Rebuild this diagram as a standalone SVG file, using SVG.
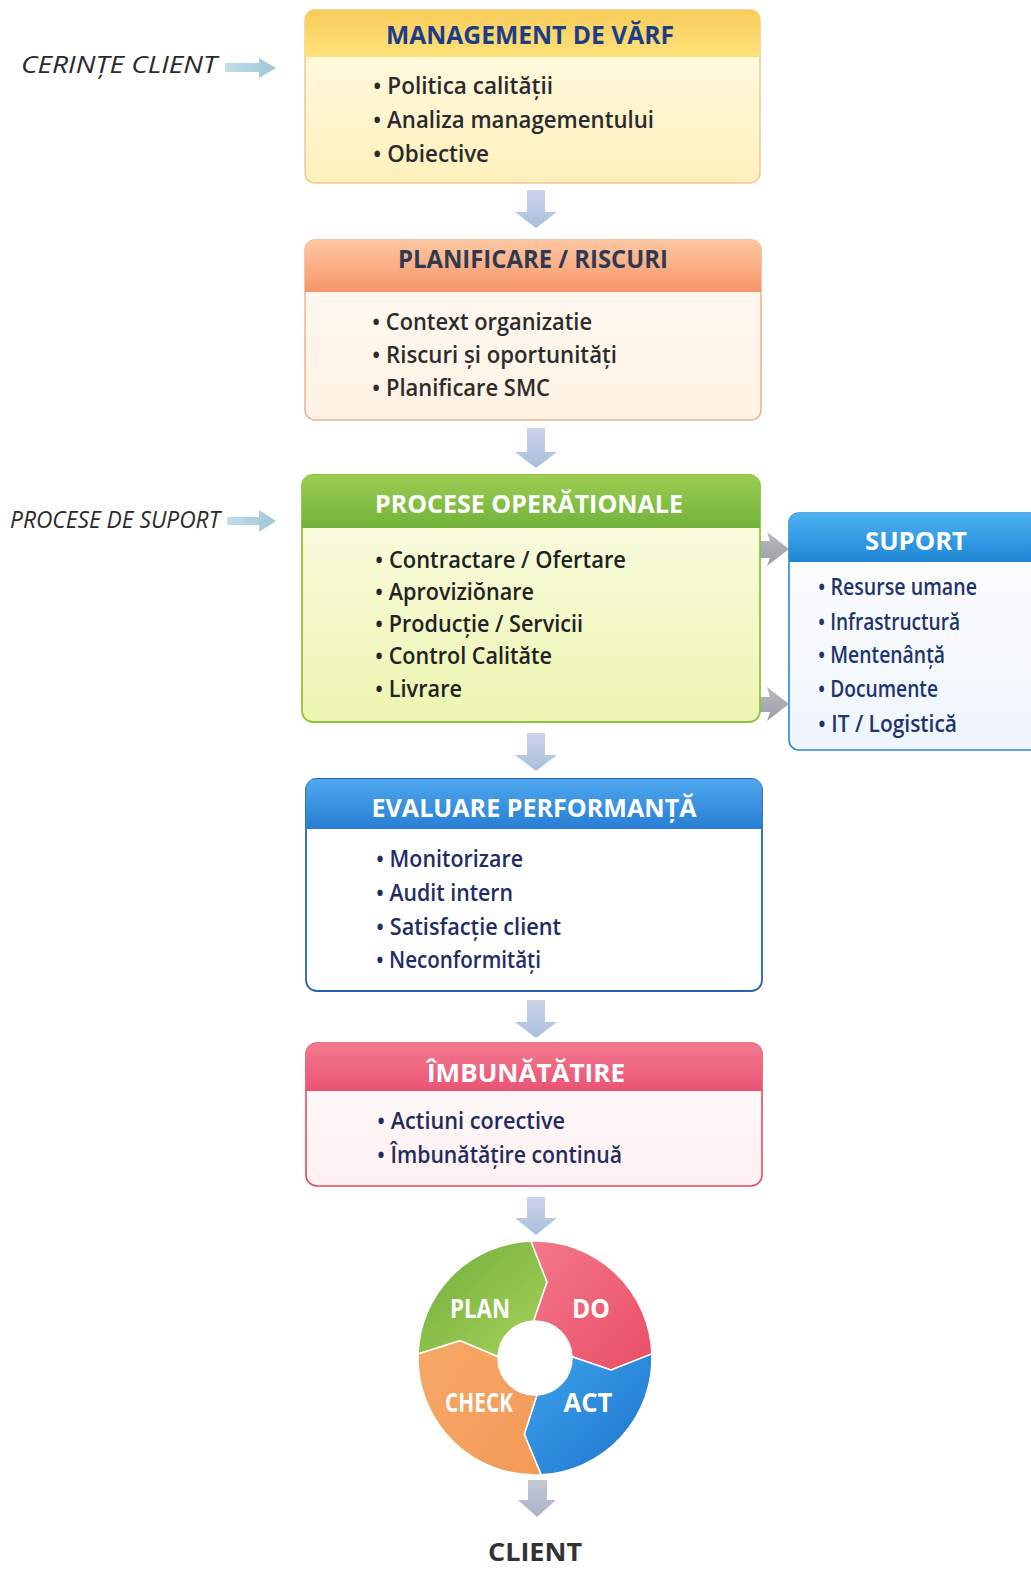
<svg xmlns="http://www.w3.org/2000/svg" width="1031" height="1570" viewBox="0 0 1031 1570">
<defs>
<style>
.t{font-family:"Open Sans","Liberation Sans","DejaVu Sans",sans-serif;font-weight:700;font-size:25px;text-anchor:middle}
.b{font-family:"Open Sans","Liberation Sans","DejaVu Sans",sans-serif;font-weight:600;font-size:23px}
.side{font-family:"Open Sans","Liberation Sans","DejaVu Sans",sans-serif;font-style:italic;font-weight:500;font-size:23px;fill:#2a2a2a}
.pd{font-family:"Open Sans","Liberation Sans","DejaVu Sans",sans-serif;font-weight:700;font-size:26px;fill:#fff;text-anchor:middle}
.down{fill:url(#gDown)}
</style>
<linearGradient id="gDown" x1="0" y1="0" x2="0" y2="1"><stop offset="0" stop-color="#cdd3ea"/><stop offset="1" stop-color="#a9bfdc"/></linearGradient>
<linearGradient id="gDown2" x1="0" y1="0" x2="0" y2="1"><stop offset="0" stop-color="#c4c8d6"/><stop offset="1" stop-color="#aab2c6"/></linearGradient>
<linearGradient id="gSide" x1="0" y1="0" x2="1" y2="0"><stop offset="0" stop-color="#c4dde8"/><stop offset="1" stop-color="#9fc6da"/></linearGradient>
<linearGradient id="gGray" x1="0" y1="0" x2="0" y2="1"><stop offset="0" stop-color="#b8bac0"/><stop offset="1" stop-color="#9a9ea6"/></linearGradient>
<linearGradient id="h1" x1="0" y1="0" x2="0" y2="1"><stop offset="0" stop-color="#f8cc5a"/><stop offset="1" stop-color="#fde27a"/></linearGradient>
<linearGradient id="b1" x1="0" y1="0" x2="0" y2="1"><stop offset="0" stop-color="#fffce8"/><stop offset="1" stop-color="#fff0bc"/></linearGradient>
<linearGradient id="h2" x1="0" y1="0" x2="0" y2="1"><stop offset="0" stop-color="#fcc8a2"/><stop offset="1" stop-color="#f8956a"/></linearGradient>
<linearGradient id="b2" x1="0" y1="0" x2="0" y2="1"><stop offset="0" stop-color="#fffaf3"/><stop offset="1" stop-color="#fff2e4"/></linearGradient>
<linearGradient id="h3" x1="0" y1="0" x2="0" y2="1"><stop offset="0" stop-color="#9ccd52"/><stop offset="1" stop-color="#72b23a"/></linearGradient>
<linearGradient id="b3" x1="0" y1="0" x2="0" y2="1"><stop offset="0" stop-color="#fbfde8"/><stop offset="1" stop-color="#ecf5b0"/></linearGradient>
<linearGradient id="hS" x1="0" y1="0" x2="0" y2="1"><stop offset="0" stop-color="#4db2f0"/><stop offset="1" stop-color="#1f86d6"/></linearGradient>
<linearGradient id="bS" x1="0" y1="0" x2="0" y2="1"><stop offset="0" stop-color="#ffffff"/><stop offset="1" stop-color="#eef5fc"/></linearGradient>
<linearGradient id="h4" x1="0" y1="0" x2="0" y2="1"><stop offset="0" stop-color="#4fa8ee"/><stop offset="1" stop-color="#277ed4"/></linearGradient>
<linearGradient id="h5" x1="0" y1="0" x2="0" y2="1"><stop offset="0" stop-color="#f27a8e"/><stop offset="1" stop-color="#ea5474"/></linearGradient>
<linearGradient id="b5" x1="0" y1="0" x2="0" y2="1"><stop offset="0" stop-color="#fffafa"/><stop offset="1" stop-color="#fff1f2"/></linearGradient>
<linearGradient id="pPlan" x1="0" y1="0" x2="1" y2="1"><stop offset="0" stop-color="#6fae3a"/><stop offset="1" stop-color="#a8d25c"/></linearGradient>
<linearGradient id="pDo" x1="0" y1="0" x2="1" y2="1"><stop offset="0" stop-color="#f3788a"/><stop offset="1" stop-color="#e94e66"/></linearGradient>
<linearGradient id="pAct" x1="0" y1="0" x2="1" y2="1"><stop offset="0" stop-color="#3ea2ec"/><stop offset="1" stop-color="#1c74cc"/></linearGradient>
<linearGradient id="pCheck" x1="0" y1="0" x2="1" y2="1"><stop offset="0" stop-color="#f6a866"/><stop offset="1" stop-color="#f39a58"/></linearGradient>
</defs>
<rect x="0" y="0" width="1031" height="1570" fill="#ffffff"/>

<g id="connectors">
<path d="M225 63 H259 V58 L276 68 L259 78 V72 H225 Z" fill="url(#gSide)"/>
<path d="M227 517 H259 V510 L276 521 L259 532 V525 H227 Z" fill="url(#gSide)"/>
<path class="down" d="M527 190 H545 V212 H557 L536 228 L515 212 H527 Z"/>
<path class="down" d="M527 428 H545 V452 H557 L536 468 L515 452 H527 Z"/>
<path class="down" d="M527 733 H545 V755 H557 L536 771 L515 755 H527 Z"/>
<path class="down" d="M527 1000 H545 V1022 H557 L536 1038 L515 1022 H527 Z"/>
<path class="down" d="M527 1197 H545 V1218 H557 L536 1235 L515 1218 H527 Z"/>
<path d="M528 1480 H547 V1500 H556 L537 1517 L518 1500 H528 Z" fill="url(#gDown2)"/>
<line x1="687" y1="557" x2="760" y2="557" stroke="#555a60" stroke-width="1.6"/>
<path d="M752 541 H770 L767 532 L789 549 L767 566 L770 558 H752 Z" fill="url(#gGray)"/>
<path d="M742 697 H770 L767 687 L789 704 L767 721 L770 712 H742 Z" fill="url(#gGray)"/>
</g>

<g id="labels">
<text class="side" x="21" y="73" textLength="196" lengthAdjust="spacingAndGlyphs">CERINȚE CLIENT</text>
<text class="side" x="10" y="528" textLength="210" lengthAdjust="spacingAndGlyphs">PROCESE DE SUPORT</text>
</g>

<g id="node-management">
<rect x="305" y="10" width="455" height="173" rx="10" fill="url(#b1)" stroke="#f2c890" stroke-width="1.5"/>
<path d="M305 57 V20 Q305 10 315 10 H750 Q760 10 760 20 V57 Z" fill="url(#h1)"/>
<text class="t" x="530" y="44" fill="#1e3c88" textLength="288" lengthAdjust="spacingAndGlyphs">MANAGEMENT DE VĂRF</text>
<text class="b" x="373" y="94" fill="#2a2a2e" textLength="180" lengthAdjust="spacingAndGlyphs">• Politica calității</text>
<text class="b" x="373" y="128" fill="#2a2a2e" textLength="281" lengthAdjust="spacingAndGlyphs">• Analiza managementului</text>
<text class="b" x="373" y="162" fill="#2a2a2e" textLength="116" lengthAdjust="spacingAndGlyphs">• Obiective</text>
</g>

<g id="node-planificare">
<rect x="305" y="240" width="456" height="180" rx="10" fill="url(#b2)" stroke="#f2b08a" stroke-width="1.5"/>
<path d="M305 292 V250 Q305 240 315 240 H751 Q761 240 761 250 V292 Z" fill="url(#h2)"/>
<text class="t" x="533" y="268" fill="#2f3a52" textLength="270" lengthAdjust="spacingAndGlyphs">PLANIFICARE / RISCURI</text>
<text class="b" x="372" y="330" fill="#2c2c2c" textLength="220" lengthAdjust="spacingAndGlyphs">• Context organizatie</text>
<text class="b" x="372" y="363" fill="#2c2c2c" textLength="245" lengthAdjust="spacingAndGlyphs">• Riscuri și oportunități</text>
<text class="b" x="372" y="396" fill="#2c2c2c" textLength="178" lengthAdjust="spacingAndGlyphs">• Planificare SMC</text>
</g>

<g id="node-procese">
<rect x="302" y="475" width="458" height="247" rx="11" fill="url(#b3)" stroke="#8cc440" stroke-width="1.8"/>
<path d="M302 528 V486 Q302 475 313 475 H749 Q760 475 760 486 V528 Z" fill="url(#h3)"/>
<text class="t" x="529" y="513" fill="#ffffff" textLength="308" lengthAdjust="spacingAndGlyphs">PROCESE OPERĂTIONALE</text>
<text class="b" x="375" y="568" fill="#222222" textLength="251" lengthAdjust="spacingAndGlyphs">• Contractare / Ofertare</text>
<text class="b" x="375" y="600" fill="#222222" textLength="159" lengthAdjust="spacingAndGlyphs">• Aproviziŏnare</text>
<text class="b" x="375" y="632" fill="#222222" textLength="208" lengthAdjust="spacingAndGlyphs">• Producție / Servicii</text>
<text class="b" x="375" y="664" fill="#222222" textLength="177" lengthAdjust="spacingAndGlyphs">• Control Calităte</text>
<text class="b" x="375" y="697" fill="#222222" textLength="87" lengthAdjust="spacingAndGlyphs">• Livrare</text>
</g>

<g id="node-suport">
<rect x="789" y="513" width="260" height="237" rx="10" fill="url(#bS)" stroke="#2f86cc" stroke-width="1.6"/>
<path d="M789 562 V523 Q789 513 799 513 H1049 V562 Z" fill="url(#hS)"/>
<text class="t" x="916" y="550" fill="#ffffff" textLength="102" lengthAdjust="spacingAndGlyphs">SUPORT</text>
<text class="b" x="818" y="595" fill="#1e3470" textLength="159" lengthAdjust="spacingAndGlyphs">• Resurse umane</text>
<text class="b" x="818" y="630" fill="#1e3470" textLength="142" lengthAdjust="spacingAndGlyphs">• Infrastructură</text>
<text class="b" x="818" y="663" fill="#1e3470" textLength="127" lengthAdjust="spacingAndGlyphs">• Mentenânță</text>
<text class="b" x="818" y="697" fill="#1e3470" textLength="120" lengthAdjust="spacingAndGlyphs">• Documente</text>
<text class="b" x="818" y="732" fill="#1e3470" textLength="139" lengthAdjust="spacingAndGlyphs">• IT / Logistică</text>
</g>

<g id="node-evaluare">
<rect x="306" y="779" width="456" height="212" rx="11" fill="#ffffff" stroke="#2a62b2" stroke-width="1.8"/>
<path d="M306 829 V790 Q306 779 317 779 H751 Q762 779 762 790 V829 Z" fill="url(#h4)"/>
<text class="t" x="534" y="817" fill="#ffffff" textLength="325" lengthAdjust="spacingAndGlyphs">EVALUARE PERFORMANȚĂ</text>
<text class="b" x="376" y="867" fill="#1f2c66" textLength="147" lengthAdjust="spacingAndGlyphs">• Monitorizare</text>
<text class="b" x="376" y="901" fill="#1f2c66" textLength="137" lengthAdjust="spacingAndGlyphs">• Audit intern</text>
<text class="b" x="376" y="935" fill="#1f2c66" textLength="185" lengthAdjust="spacingAndGlyphs">• Satisfacție client</text>
<text class="b" x="376" y="968" fill="#1f2c66" textLength="165" lengthAdjust="spacingAndGlyphs">• Neconformități</text>
</g>

<g id="node-imbunatatire">
<rect x="306" y="1043" width="456" height="143" rx="11" fill="url(#b5)" stroke="#de4a66" stroke-width="1.6"/>
<path d="M306 1091 V1054 Q306 1043 317 1043 H751 Q762 1043 762 1054 V1091 Z" fill="url(#h5)"/>
<text class="t" x="526" y="1082" fill="#ffffff" textLength="198" lengthAdjust="spacingAndGlyphs">ÎMBUNĂTĂTIRE</text>
<text class="b" x="377" y="1129" fill="#1f2c5e" textLength="188" lengthAdjust="spacingAndGlyphs">• Actiuni corective</text>
<text class="b" x="377" y="1163" fill="#1f2c5e" textLength="245" lengthAdjust="spacingAndGlyphs">• Îmbunătățire continuă</text>
</g>

<g id="node-pdca">
<g transform="translate(535,1358)" stroke="#ffffff" stroke-width="1.5" stroke-linejoin="round">
<path d="M-116.93,-4.08 A117,117 0 0 1 -4.08,-116.93 L12.04,-76.05 L-1.29,-36.98 A37,37 0 0 0 -36.98,-1.29 L-75.03,-17.32 Z" fill="url(#pPlan)"/>
<path d="M-4.08,-116.93 A117,117 0 0 1 116.93,-4.08 L76.05,12.04 L36.98,-1.29 A37,37 0 0 0 -1.29,-36.98 L12.04,-76.05 Z" fill="url(#pDo)"/>
<path d="M116.93,-4.08 A117,117 0 0 1 6.12,116.84 L-10.72,76.25 L1.94,36.95 A37,37 0 0 0 36.98,-1.29 L76.05,12.04 Z" fill="url(#pAct)"/>
<path d="M6.12,116.84 A117,117 0 0 1 -116.93,-4.08 L-75.03,-17.32 L-36.98,-1.29 A37,37 0 0 0 1.94,36.95 L-10.72,76.25 Z" fill="url(#pCheck)"/>
</g>
<text class="pd" x="480" y="1318" textLength="60" lengthAdjust="spacingAndGlyphs">PLAN</text>
<text class="pd" x="591" y="1318" textLength="38" lengthAdjust="spacingAndGlyphs">DO</text>
<text class="pd" x="479" y="1412" textLength="68" lengthAdjust="spacingAndGlyphs">CHECK</text>
<text class="pd" x="588" y="1412" textLength="49" lengthAdjust="spacingAndGlyphs">ACT</text>
</g>

<g id="node-client">
<text class="t" x="535" y="1561" fill="#333333" font-size="26" textLength="94" lengthAdjust="spacingAndGlyphs">CLIENT</text>
</g>
</svg>
